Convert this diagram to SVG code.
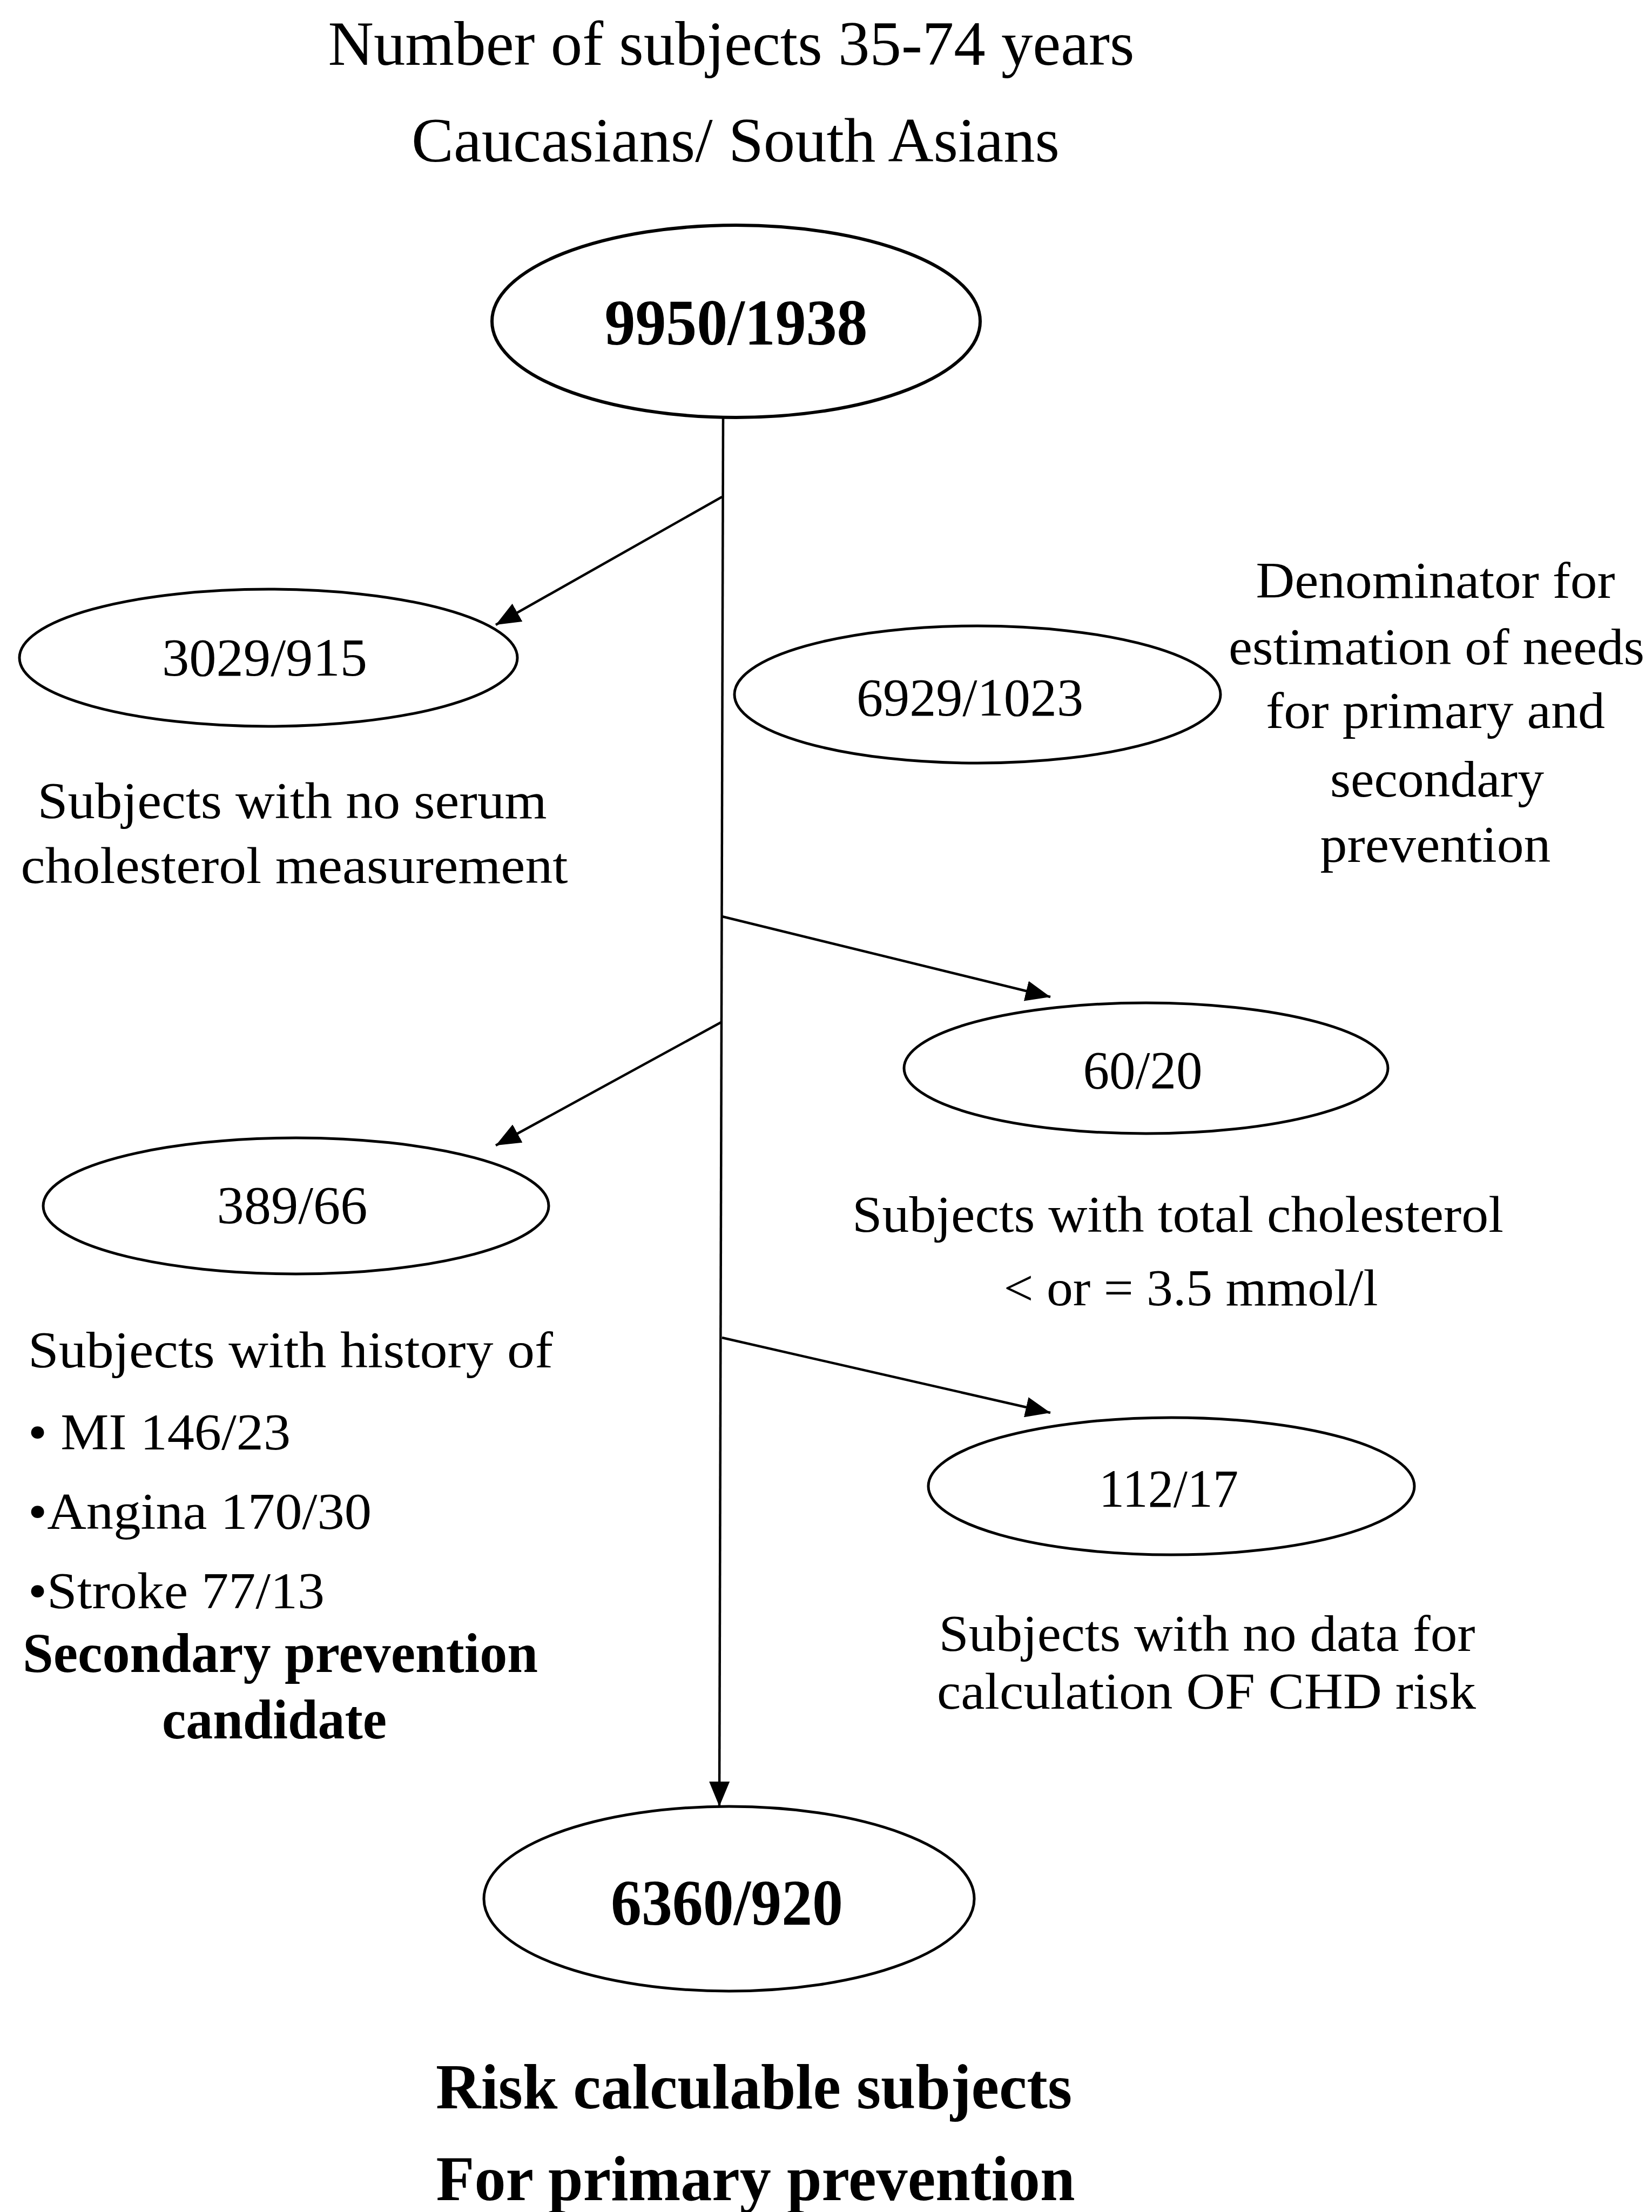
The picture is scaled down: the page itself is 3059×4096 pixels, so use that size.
<svg xmlns="http://www.w3.org/2000/svg" width="3059" height="4096" viewBox="0 0 3059 4096">
<defs>
<style>
.bg{fill:#ffffff}
.node{fill:none;stroke:#000;stroke-width:5}
.edge{fill:none;stroke:#000;stroke-width:4.5}
.t{font-family:"Liberation Serif","Times New Roman",serif;fill:#000}
.title{font-size:117px}
.lbl{font-size:96px}
.num{font-size:100px}
.bnum{font-size:120px;font-weight:bold}
.bold{font-size:104px;font-weight:bold}
.btm{font-size:118px;font-weight:bold}
</style>
<marker id="ah" markerUnits="userSpaceOnUse" markerWidth="46" markerHeight="38" refX="46" refY="19" orient="auto">
<path d="M0,0 L46,19 L0,38 Z" fill="#000"/>
</marker>
</defs>
<rect class="bg" x="0" y="0" width="3059" height="4096"/>

<g id="title">
<text class="t title" x="1354" y="120" text-anchor="middle" textLength="1493" lengthAdjust="spacingAndGlyphs">Number of subjects 35-74 years</text>
<text class="t title" x="1362" y="299" text-anchor="middle" textLength="1200" lengthAdjust="spacingAndGlyphs">Caucasians/ South Asians</text>
</g>

<g id="connectors">
<line class="edge" x1="1339" y1="773" x2="1332" y2="3345" marker-end="url(#ah)"/>
<line class="edge" x1="1337" y1="920" x2="918" y2="1157" marker-end="url(#ah)"/>
<line class="edge" x1="1337" y1="1697" x2="1945" y2="1846" marker-end="url(#ah)"/>
<line class="edge" x1="1337" y1="1892" x2="918" y2="2121" marker-end="url(#ah)"/>
<line class="edge" x1="1337" y1="2477" x2="1945" y2="2616" marker-end="url(#ah)"/>
</g>

<g id="node-total">
<ellipse class="node" cx="1363" cy="595" rx="452" ry="178" style="stroke-width:6"/>
<text class="t bnum" x="1363" y="638" text-anchor="middle" textLength="487" lengthAdjust="spacingAndGlyphs">9950/1938</text>
</g>

<g id="node-nochol">
<ellipse class="node" cx="497" cy="1218" rx="461" ry="127"/>
<text class="t num" x="490" y="1251" text-anchor="middle" textLength="380" lengthAdjust="spacingAndGlyphs">3029/915</text>
<text class="t lbl" x="541" y="1515" text-anchor="middle" textLength="943" lengthAdjust="spacingAndGlyphs">Subjects with no serum</text>
<text class="t lbl" x="545" y="1635" text-anchor="middle" textLength="1013" lengthAdjust="spacingAndGlyphs">cholesterol measurement</text>
</g>

<g id="node-denominator">
<ellipse class="node" cx="1810" cy="1286" rx="450" ry="127"/>
<text class="t num" x="1796" y="1325" text-anchor="middle" textLength="420" lengthAdjust="spacingAndGlyphs">6929/1023</text>
<text class="t lbl" x="2658" y="1107" text-anchor="middle" textLength="665" lengthAdjust="spacingAndGlyphs">Denominator for</text>
<text class="t lbl" x="2660" y="1230" text-anchor="middle" textLength="770" lengthAdjust="spacingAndGlyphs">estimation of needs</text>
<text class="t lbl" x="2658" y="1348" text-anchor="middle" textLength="628" lengthAdjust="spacingAndGlyphs">for primary and</text>
<text class="t lbl" x="2661" y="1475" text-anchor="middle" textLength="396" lengthAdjust="spacingAndGlyphs">secondary</text>
<text class="t lbl" x="2658" y="1596" text-anchor="middle" textLength="427" lengthAdjust="spacingAndGlyphs">prevention</text>
</g>

<g id="node-lowchol">
<ellipse class="node" cx="2122" cy="1978" rx="448" ry="121"/>
<text class="t num" x="2116" y="2015" text-anchor="middle" textLength="221" lengthAdjust="spacingAndGlyphs">60/20</text>
<text class="t lbl" x="2181" y="2281" text-anchor="middle" textLength="1206" lengthAdjust="spacingAndGlyphs">Subjects with total cholesterol</text>
<text class="t lbl" x="2205" y="2417" text-anchor="middle" textLength="693" lengthAdjust="spacingAndGlyphs">&lt; or = 3.5 mmol/l</text>
</g>

<g id="node-history">
<ellipse class="node" cx="548" cy="2233" rx="468" ry="126"/>
<text class="t num" x="541" y="2265" text-anchor="middle" textLength="279" lengthAdjust="spacingAndGlyphs">389/66</text>
<text class="t lbl" x="52" y="2532" textLength="972" lengthAdjust="spacingAndGlyphs">Subjects with history of</text>
<text class="t lbl" x="52" y="2684" textLength="486" lengthAdjust="spacingAndGlyphs">• MI 146/23</text>
<text class="t lbl" x="52" y="2831" textLength="636" lengthAdjust="spacingAndGlyphs">•Angina 170/30</text>
<text class="t lbl" x="52" y="2978" textLength="549" lengthAdjust="spacingAndGlyphs">•Stroke 77/13</text>
<text class="t bold" x="42" y="3096" textLength="954" lengthAdjust="spacingAndGlyphs">Secondary prevention</text>
<text class="t bold" x="508" y="3219" text-anchor="middle" textLength="416" lengthAdjust="spacingAndGlyphs">candidate</text>
</g>

<g id="node-nodata">
<ellipse class="node" cx="2169" cy="2752" rx="450" ry="127"/>
<text class="t num" x="2164" y="2790" text-anchor="middle" textLength="258" lengthAdjust="spacingAndGlyphs">112/17</text>
<text class="t lbl" x="2235" y="3057" text-anchor="middle" textLength="993" lengthAdjust="spacingAndGlyphs">Subjects with no data for</text>
<text class="t lbl" x="2234" y="3164" text-anchor="middle" textLength="998" lengthAdjust="spacingAndGlyphs">calculation OF CHD risk</text>
</g>

<g id="node-risk">
<ellipse class="node" cx="1350" cy="3516" rx="454" ry="171"/>
<text class="t bnum" x="1346" y="3564" text-anchor="middle" textLength="430" lengthAdjust="spacingAndGlyphs">6360/920</text>
<text class="t btm" x="1396" y="3904" text-anchor="middle" textLength="1178" lengthAdjust="spacingAndGlyphs">Risk calculable subjects</text>
<text class="t btm" x="1399" y="4074" text-anchor="middle" textLength="1183" lengthAdjust="spacingAndGlyphs">For primary prevention</text>
</g>
</svg>
